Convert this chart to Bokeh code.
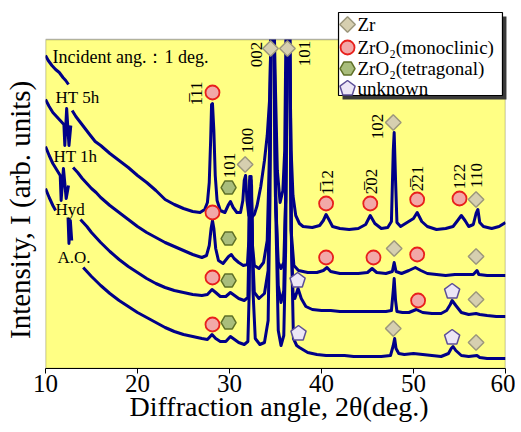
import math
from bokeh.plotting import figure
from bokeh.models import Range1d, BoxAnnotation, FixedTicker
from bokeh.core.properties import value
from bokeh.embed import file_html
from bokeh.resources import INLINE

NAN = float("nan")
SERIF = "Liberation Serif"

# ---------------- data (2theta in deg, intensity in arb. units) ----------------
ht5h_x = [10.0, 10.3, 10.7, 11.1, 11.5, 11.9, 12.2, 12.5, NAN, 12.9, 13.3, 13.8, 14.3, 14.8, 15.4, 16.0, 16.5, 17.0,
          18.0, 19.0, 20.0, 21.0, 22.0, 23.0, 24.0, 25.0, 26.0, 26.8, 27.3, 27.6, 27.8, 27.95, 28.05, 28.15, 28.3,
          28.45, 28.65, 29.0, 29.5, 29.9, 30.1, 30.4, 30.8, 31.2, 31.45, 31.6, 31.75, 31.9, 32.1, 32.4, 32.7, 33.0,
          33.4, 33.8, 34.1, 34.35, 34.5, 34.55, 34.85, 35.0, 35.2, 35.5, 35.8, 36.0, 36.15, 36.5, 36.7, 36.9, 37.2,
          37.6, 38.0, 39.0, 39.8, 40.2, 40.5, 40.8, 41.2, 42.0, 43.0, 44.0, 44.8, 45.3, 45.8, 46.5, 47.2, 47.6, 47.8,
          47.9, 48.05, 48.2, 48.6, 49.3, 50.0, 50.4, 50.9, 51.5, 52.5, 53.5, 54.3, 54.8, 55.2, 55.6, 56.0, 56.5, 56.8,
          57.0, 57.2, 57.6, 58.5, 59.3, 60.0]
ht5h_y = [313, 308, 303, 299, 296, 291, 288, 284, NAN, 258, 252, 246, 240, 234, 227, 223, 219, 215,
          208, 201, 193, 186, 178, 169, 164, 160, 157, 156, 159, 166, 186, 228, 264, 265, 238,
          193, 168, 158, 156, 164, 167, 161, 156, 156, 168, 188, 193, 168, 153, 151, 154, 163,
          182, 208, 233, 268, 328, 348, 348, 278, 198, 166, 178, 218, 348, 348, 218, 173, 153,
          145, 142, 141, 143, 148, 154, 149, 142, 140, 139, 140, 144, 153, 145, 140, 141, 147, 218,
          236, 188, 146, 142, 146, 150, 156, 147, 142, 139, 140, 142, 148, 153, 148, 142, 144, 155,
          159, 146, 142, 140, 142, 146]

ht1h_x = [10.0, 10.4, 10.8, 11.2, 11.6, 12.0, 12.1, 12.3, 12.55, 12.75, NAN, 13.0, 13.5, 14.0, 14.5, 15.0, 15.5,
          16.0, 17.0, 18.0, 19.0, 20.0, 21.0, 22.0, 23.0, 24.0, 25.0, 26.0, 27.0, 27.5, 27.8, 28.0, 28.15, 28.3,
          28.5, 28.8, 29.3, 29.9, 30.2, 30.5, 31.0, 31.5, 31.95, 32.1, 32.2, 32.35, 32.5, 32.7, 33.2, 33.7, 34.1,
          34.35, 34.5, 34.8, 35.0, 35.3, 35.6, 35.9, 36.1, 36.25, 36.5, 36.7, 37.0, 37.5, 38.5, 39.5, 40.2, 40.6,
          41.0, 42.0, 43.0, 44.0, 45.0, 45.5, 46.0, 47.0, 47.7, 47.9, 48.1, 48.7, 49.5, 50.2, 50.8, 51.5, 52.5,
          53.5, 54.5, 55.5, 56.5, 56.9, 57.1, 58.0, 59.0, 60.0]
ht1h_y = [269, 262, 256, 252, 248, 244, 223, 260, 223, 243, NAN, 201, 196, 190, 185, 180, 176,
          171, 163, 156, 149, 142, 136, 131, 126, 122, 118, 114, 111, 113, 123, 140, 148, 140,
          120, 108, 105, 112, 114, 110, 106, 103, 104, 128, 192, 192, 123, 103, 100, 106, 128,
          218, 348, 348, 168, 106, 100, 106, 168, 348, 348, 138, 103, 98, 96, 96, 98, 101,
          97, 95, 95, 95, 96, 100, 96, 95, 97, 106, 97, 95, 98, 101, 98, 95, 94,
          93, 94, 94, 94, 98, 94, 93, 93, 93]

hyd_x = [10.0, 10.4, 10.8, 11.2, 11.6, 11.7, 11.95, 12.25, 12.5, NAN, 13.8, 14.5, 15.0, 16.0, 17.0, 18.0, 19.0,
         20.0, 21.0, 22.0, 23.0, 24.0, 25.0, 26.0, 27.0, 27.6, 28.1, 28.5, 29.0, 29.6, 30.1, 30.4, 31.0, 31.6,
         32.0, 32.1, 32.2, 32.35, 32.5, 32.7, 33.2, 33.8, 34.2, 34.4, 34.5, 34.85, 35.0, 35.3, 35.6, 35.9, 36.1,
         36.25, 36.55, 36.7, 36.9, 37.1, 37.45, 37.8, 38.3, 39.0, 40.0, 41.0, 42.0, 43.0, 44.0, 45.0, 46.0, 47.0,
         47.6, 47.8, 47.9, 48.05, 48.2, 48.8, 49.5, 50.3, 51.0, 52.0, 53.0, 53.6, 54.0, 54.2, 54.6, 55.2, 56.0,
         56.8, 57.2, 58.0, 59.0, 60.0]
hyd_y = [222, 213, 205, 199, 193, 168, 200, 170, 183, NAN, 149, 142, 136, 126, 117, 109, 102,
         96, 90, 85, 81, 78, 76, 74, 73, 74, 79, 76, 72, 72, 76, 74, 70, 68,
         71, 118, 188, 188, 118, 76, 70, 75, 98, 218, 348, 348, 188, 83, 66, 78, 168,
         348, 348, 138, 76, 70, 80, 70, 62, 59, 58, 58, 57, 57, 57, 57, 57, 57,
         58, 78, 90, 68, 57, 56, 56, 59, 56, 55, 55, 58, 64, 68, 63, 56, 54,
         55, 54, 53, 52, 52]

ao_x = [10.0, 10.4, 10.8, 11.1, NAN, 12.45, 12.55, 12.7, 12.85, NAN, 14.1, 14.5, 15.0, 16.0, 17.0, 18.0, 19.0,
        20.0, 21.0, 22.0, 23.0, 24.0, 25.0, 26.0, 27.0, 27.6, 28.1, 28.5, 29.0, 29.6, 30.1, 30.4, 31.0, 31.6,
        32.0, 32.15, 32.25, 32.4, 32.55, 32.8, 33.3, 33.8, 34.2, 34.4, 34.55, 34.85, 35.0, 35.3, 35.6, 35.9,
        36.1, 36.3, 36.55, 36.75, 36.95, 37.3, 37.6, 38.5, 39.5, 40.5, 41.5, 42.5, 43.5, 44.5, 45.5, 46.5, 47.5,
        47.8, 47.95, 48.1, 48.4, 49.0, 50.0, 51.0, 52.0, 53.0, 53.8, 54.1, 54.3, 54.6, 55.2, 56.0, 56.9, 57.2,
        58.0, 59.0, 60.0]
ao_y = [180, 171, 163, 158, NAN, 151, 125, 148, 128, NAN, 101, 97, 92, 83, 75, 68, 62,
        56, 51, 46, 41, 37, 34, 32, 30, 29, 34, 30, 27, 27, 32, 30, 26, 24,
        27, 78, 183, 183, 78, 30, 24, 26, 48, 168, 348, 348, 168, 38, 23, 33,
        118, 348, 348, 118, 30, 23, 21, 16, 14, 13, 13, 13, 12, 12, 12, 12, 13,
        23, 30, 20, 15, 14, 15, 14, 13, 12, 15, 20, 22, 18, 13, 12, 13, 11,
        10, 10, 10]

curve_names = ["HT 5h", "HT 1h", "Hyd", "A.O."]

# phase markers (2theta, intensity)
zr_x = [34.46, 36.3, 31.7, 47.8, 56.8, 47.9, 56.8, 56.8, 47.8, 56.8]
zr_y = [320, 320, 204, 246, 169, 120, 112, 69, 40, 26]
mono_x = [28.15, 40.5, 45.3, 50.4, 55.0, 28.15, 40.5, 45.65, 50.4, 28.15, 50.5, 28.15]
mono_y = [276, 165, 165, 169, 170, 156, 111, 111, 114, 91, 68, 44]
tet_x = [29.9, 29.9, 29.9, 29.9]
tet_y = [181, 130, 88, 46]
unk_x = [37.4, 54.2, 37.5, 54.2]
unk_y = [88, 77, 35, 31]

# Miller index labels
hkl_text = ["1\u030511", "101", "100", "002", "101", "1\u030512", "2\u030502", "102", "2\u030521", "122", "110"]
hkl_x = [26.41, 30.0, 31.96, 32.93, 38.15, 40.65, 45.43, 46.09, 50.43, 55.0, 56.85]
hkl_y = [275, 203, 228, 314, 315, 186, 187, 242, 190, 192, 193]

x_ticks = [10, 20, 30, 40, 50, 60]
legend_labels = ["Zr", "ZrO\u2082(monoclinic)", "ZrO\u2082(tetragonal)", "unknown"]

# ---------------- styles ----------------
YELLOW = "#ffff84"
LINE = "#000088"
ZR_FILL, ZR_LINE = "#d6cfb0", "#9c977c"
MONO_FILL, MONO_LINE = "#f2a8a8", "#e8201c"
TET_FILL, TET_LINE = "#a9bd7c", "#5f7028"
UNK_FILL, UNK_LINE = "#ece6f6", "#5d4f98"
PXD = 460 / 50.0  # px per degree
NB = "\u00a0"

p = figure(width=515, height=432, x_range=Range1d(10, 60), y_range=Range1d(0, 368),
           output_backend="svg", toolbar_location=None,
           min_border_left=45, min_border_right=10, min_border_top=0, min_border_bottom=64)
p.background_fill_color = "white"
p.border_fill_color = "white"
p.outline_line_color = None
p.grid.visible = False

ax = p.xaxis[0]
ax.ticker = FixedTicker(ticks=x_ticks)
ax.major_label_text_font = SERIF
ax.major_label_text_font_size = "25px"
ax.major_label_text_color = "black"
ax.major_tick_out = 5
ax.major_tick_in = 0
ax.minor_tick_out = 0
ax.minor_tick_in = 0
ax.axis_line_color = "black"
ax.major_label_standoff = 1
ax.axis_label = NB + "Diffraction angle, 2\u03b8(deg.)"
ax.axis_label_text_font = SERIF
ax.axis_label_text_font_size = "28px"
ax.axis_label_text_font_style = "normal"
ax.axis_label_text_color = "black"
ax.axis_label_standoff = -4

ay = p.yaxis[0]
ay.ticker = FixedTicker(ticks=[])
ay.major_tick_out = 0
ay.major_tick_in = 0
ay.minor_tick_out = 0
ay.minor_tick_in = 0
ay.major_label_text_font_size = "0px"
ay.axis_line_color = None
ay.axis_label = "Intensity, I (arb. units)" + NB * 7
ay.axis_label_text_font = SERIF
ay.axis_label_text_font_size = "29px"
ay.axis_label_text_font_style = "normal"
ay.axis_label_text_color = "black"
ay.axis_label_standoff = 10

# plot area background
p.add_layout(BoxAnnotation(left=10, right=60, bottom=0, top=329, fill_color=YELLOW, fill_alpha=1,
                           line_color=None, level="underlay"))

for xs, ys in [(ht5h_x, ht5h_y), (ht1h_x, ht1h_y), (hyd_x, hyd_y), (ao_x, ao_y)]:
    p.line(xs, ys, line_color=LINE, line_width=3, line_join="round")

p.scatter(zr_x, zr_y, marker="square", angle=math.pi / 4, size=11, fill_color=ZR_FILL,
          line_color=ZR_LINE, line_width=1.5)
p.scatter(mono_x, mono_y, marker="circle", size=14, fill_color=MONO_FILL, line_color=MONO_LINE, line_width=1.8)
p.scatter(tet_x, tet_y, marker="hex", size=15, fill_color=TET_FILL, line_color=TET_LINE, line_width=1.5)


def pentagons(xs, ys, r, level="glyph"):
    # regular pentagon, apex up, radius r in screen pixels (x scale: PXD px per degree, y: 1 px per unit)
    px, py = [], []
    for xc, yc in zip(xs, ys):
        px.append([xc + r * math.cos(math.pi / 2 + k * 2 * math.pi / 5) / PXD for k in range(5)])
        py.append([yc + r * math.sin(math.pi / 2 + k * 2 * math.pi / 5) for k in range(5)])
    p.patches(px, py, fill_color=UNK_FILL, line_color=UNK_LINE, line_width=1.5, level=level)


pentagons(unk_x, unk_y, 8)

# Miller indices (rotated)
p.text(x=hkl_x, y=hkl_y, text=hkl_text, angle=math.pi / 2, text_align="center", text_baseline="middle",
       text_font=value(SERIF), text_font_size="17px", text_color="black")

# curve labels
p.text(x=[11.09, 10.87, 11.09, 11.3], y=[271, 212, 159, 111], text=curve_names, text_align="left",
       text_baseline="middle", text_font=value(SERIF), text_font_size="17px", text_color="black")
p.text(x=[10.76], y=[312], text=["Incident ang.\uff1a1 deg."], text_align="left", text_baseline="middle",
       text_font=value(SERIF), text_font_size="18px", text_color="black")

# white cover above the plot box and the box outline
p.add_layout(BoxAnnotation(left=9, right=61, bottom=329, top=380, fill_color="white", fill_alpha=1,
                           line_color=None, level="annotation"))
p.add_layout(BoxAnnotation(left=10, right=60, bottom=0, top=329, fill_alpha=0,
                           line_color="black", line_width=1.5, level="annotation"))

# legend (overlay level)
lx0, lx1, ly0, ly1 = 41.85, 59.67, 273, 356
sh = 4
p.quad(left=[lx0 + sh / PXD], right=[lx1 + sh / PXD], bottom=[ly0 - sh], top=[ly1 - sh],
       fill_color="#3a3a3a", line_color=None, level="overlay")
p.quad(left=[lx0], right=[lx1], bottom=[ly0], top=[ly1], fill_color="white", line_color="black",
       line_width=1.2, level="overlay")
rows = [344, 321, 300, 280]
mx = 42.83
p.scatter([mx], [rows[0]], marker="square", angle=math.pi / 4, size=11, fill_color=ZR_FILL,
          line_color=ZR_LINE, line_width=1.5, level="overlay")
p.scatter([mx], [rows[1]], marker="circle", size=14, fill_color=MONO_FILL, line_color=MONO_LINE,
          line_width=1.8, level="overlay")
p.scatter([mx], [rows[2]], marker="hex", size=15, fill_color=TET_FILL, line_color=TET_LINE,
          line_width=1.5, level="overlay")
pentagons([mx], [rows[3]], 8, level="overlay")
p.text(x=[43.91] * 4, y=rows, text=legend_labels, text_align="left", text_baseline="middle",
       text_font=value(SERIF), text_font_size="19px", text_color="black", level="overlay")

open("out.html", "w").write(file_html(p, INLINE))
